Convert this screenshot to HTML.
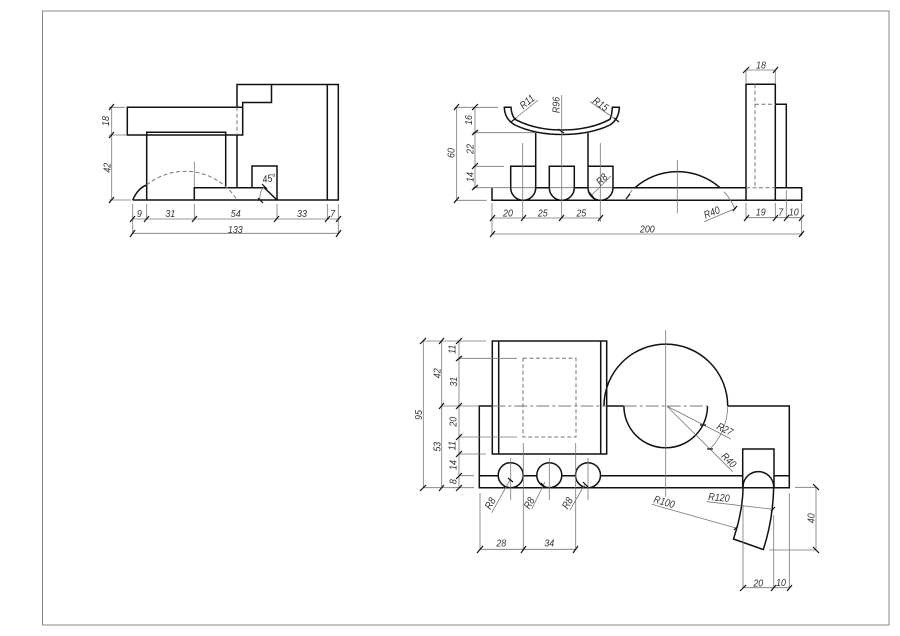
<!DOCTYPE html>
<html>
<head>
<meta charset="utf-8">
<style>
html,body{margin:0;padding:0;background:#fff;width:900px;height:636px;overflow:hidden}
svg{display:block}
.o{fill:none;stroke:#111;stroke-width:1.5}
.d{fill:none;stroke:#777;stroke-width:.8}
.f{fill:none;stroke:#888;stroke-width:1}
.c{fill:none;stroke:#777;stroke-width:.8}
.h{fill:none;stroke:#777;stroke-width:1;stroke-dasharray:4 2.5}
.a{fill:none;stroke:#777;stroke-width:.9;stroke-dasharray:13 3 3 3}
.t{fill:none;stroke:#111;stroke-width:1.2}
text{font-family:"Liberation Sans",sans-serif;font-style:italic;font-size:10.5px;fill:#333;text-anchor:middle}
</style>
</head>
<body>
<svg width="900" height="636" viewBox="0 0 900 636" xmlns="http://www.w3.org/2000/svg">
<rect class="f" x="42.5" y="11" width="846.5" height="614"/>

<!-- VIEW 1 -->
<path class="o" d="M237 107.3V84.5H338.3V200H132.7M271.5 84.5V102.5H242.7V135H127.3V107.3H242.7M146.7 135V132.3H225.7V187.7M146.7 132.3V200M237 135V187.7M194.3 200V187.7H264.3L277 200M252 187.7V166H277V200M327.3 84.5V200M132.7 200Q138 188 146.7 185"/>
<path class="h" d="M237 107.3V135M146.7 185A61 61 0 0 1 237 200"/>
<path class="c" d="M194.3 161.7V187"/>
<path class="d" d="M132.7 204V233M146.7 204V219M194.3 204V219M277 204V219M327.3 204V219M338.3 204V233M132.7 219H338.3M132.7 233.3H338.3M111.7 107.3V200M109 107.3H125M109 135H127M109 200H131M264.3 186A18 18 0 0 0 260 200"/>
<path class="t" d="M130 222L135 216M144 222L149 216M192 222L197 216M274 222L279 216M325 222L330 216M336 222L341 216M130 237L135 230M336 237L341 230M109 110L114 104M109 138L114 132M109 203L114 197M262 184L267 189M258 198L263 203"/>
<text transform="translate(139.3 213.3) scale(.85 1)" dy=".35em">9</text>
<text transform="translate(170.3 213.3) scale(.85 1)" dy=".35em">31</text>
<text transform="translate(235.7 213.3) scale(.85 1)" dy=".35em">54</text>
<text transform="translate(302 213.3) scale(.85 1)" dy=".35em">33</text>
<text transform="translate(332.7 213.3) scale(.85 1)" dy=".35em">7</text>
<text transform="translate(235.3 229.3) scale(.85 1)" dy=".35em">133</text>
<text transform="translate(105.5 121) rotate(-90) scale(.85 1)" dy=".35em">18</text>
<text transform="translate(106.7 167.7) rotate(-90) scale(.85 1)" dy=".35em">42</text>
<text transform="translate(269 178.3) rotate(-10) scale(.85 1)" dy=".35em">45°</text>

<!-- VIEW 2 -->
<path class="o" d="M492 187.7V200.3H801.7V187.7H786.3M613 187.7H746M775.3 187.7H786.3M535.7 187.7H549.3M574.3 187.7H588"/>
<path class="d" d="M492 187.7H510.7M510.7 187.7H535.7M549.3 187.7H574.3M588 187.7H613"/>
<path class="o" d="M510.7 166.3H535.7V187.8A12.5 12.5 0 0 1 510.7 187.8ZM549.3 166.3H574.3V187.8A12.5 12.5 0 0 1 549.3 187.8ZM588 166.3H613V187.8A12.5 12.5 0 0 1 588 187.8ZM535.7 133V166.3M588 133V166.3"/>
<path class="o" d="M504.3 107.3Q504.5 119 515 125Q535 134.5 561.7 134.5Q590 134.5 610 125Q619 119 619.3 107.3H612.3Q612 115 610 119.3Q590 130 561.7 130Q535 130 515 119.3Q511.5 115 511 107.3Z"/>
<path class="o" d="M635 187.7A64.4 64.4 0 0 1 720 187.7M746 200.3V84.3H775.3V200.3M775.3 104.3H786.3V187.7"/>
<path class="h" d="M755 84.3V187.7M755 104.3H775.3M746 187.7H775.3"/>
<path class="c" d="M522.7 143V218M561.7 95V218M600.3 143V222M677.3 160V213.3M786.3 190V218"/>
<path class="d" d="M492 203V234M746 203V218M775.3 203V218M801.7 203V236M492 218H600.3M746 217.7H801.7M492 234H801.7M475 107.3V187.7M456.7 107.3V200.3M455 107.3H498M473 132.7H535M473 166.3H504M473 187.7H492M455 200.3H486.7M746 70V84M775.3 70V84M746 70H775.3M513.3 120L538.3 100M616.7 120L590 101.7M591.7 195L611 176M704 221.7L736 208.3M724 191.7Q731 199 735 209.3M632 190L626 199"/>
<path class="t" d="M490 221L495 215M521 221L526 215M559 221L564 215M598 221L603 215M744 221L749 215M773 221L778 215M784 221L789 215M799 221L804 215M490 237L495 231M799 237L804 231M472 110L478 104M472 135L478 130M472 169L478 163M472 190L478 185M454 110L459 104M454 203L459 197M743 73L749 67M773 73L778 67M511 122L516 118M558 129L564 133M614 118L619 122M589 192L594 198M733 211L737 206M626 199L630 194"/>
<text transform="translate(527 101.7) rotate(-40) scale(.85 1)" dy=".35em">R11</text>
<text transform="translate(555.7 105) rotate(-90) scale(.85 1)" dy=".35em">R96</text>
<text transform="translate(600.7 104) rotate(35) scale(.85 1)" dy=".35em">R15</text>
<text transform="translate(601.7 179.3) rotate(-45) scale(.85 1)" dy=".35em">R8</text>
<text transform="translate(468.5 120) rotate(-90) scale(.85 1)" dy=".35em">16</text>
<text transform="translate(470 149) rotate(-90) scale(.85 1)" dy=".35em">22</text>
<text transform="translate(470 177) rotate(-90) scale(.85 1)" dy=".35em">14</text>
<text transform="translate(451 153) rotate(-90) scale(.85 1)" dy=".35em">60</text>
<text transform="translate(508 212.7) scale(.85 1)" dy=".35em">20</text>
<text transform="translate(542.7 212.7) scale(.85 1)" dy=".35em">25</text>
<text transform="translate(581.3 212.7) scale(.85 1)" dy=".35em">25</text>
<text transform="translate(711.7 212.3) rotate(-22) scale(.85 1)" dy=".35em">R40</text>
<text transform="translate(647.3 229) scale(.85 1)" dy=".35em">200</text>
<text transform="translate(761 65) scale(.85 1)" dy=".35em">18</text>
<text transform="translate(760.7 212) scale(.85 1)" dy=".35em">19</text>
<text transform="translate(780.7 211.7) scale(.85 1)" dy=".35em">7</text>
<text transform="translate(793.7 212) scale(.85 1)" dy=".35em">10</text>

<!-- VIEW 3 -->
<path class="o" d="M492.3 341H606.7V454H492.3ZM498.7 341V454M600.7 341V454"/>
<path class="o" d="M492.3 406H479.3V487.7H789.3V406H727.7M606.7 406H623.7M479.3 475.7H498M523.2 475.7H536.8M561.8 475.7H575.5M600.5 475.7H742.7M774 475.7H789.3"/>
<path class="o" d="M604 406A61.85 61.85 0 0 1 727.7 406M623.9 406A41.8 41.8 0 0 0 707.5 406"/>
<circle class="o" cx="510.7" cy="475.2" r="12.5"/>
<circle class="o" cx="549.3" cy="475.2" r="12.5"/>
<circle class="o" cx="588" cy="475.2" r="12.5"/>
<path class="o" d="M742.7 487V449H774V487"/>
<path class="o" d="M743 487A15.3 15.3 0 0 1 773.7 487Q773 520 763.3 549.5L733.5 539Q743 510 743 487Z"/>
<path class="h" d="M523 358.3H576V437H523Z"/>
<path class="a" d="M492.3 406H606.7M623.7 406H707.5"/>
<path class="c" d="M665.7 330V497M510.7 458V500M549.3 458V500M588 458V500"/>
<path class="d" d="M423.3 341V487.7M441.7 341V487.7M459 341V487.7M423.3 341H486M459 358.3H517M441.7 406H479M459 437H517M459 454H486M459 475.7H474M423.3 487.7H474M523.3 443V550M575.7 443V550M480 493V550M480 549.3H575.7M510 480L491.7 512.7M545 482L531.7 509M585 484L570 510M666.7 406L731 439M666.7 406L732.7 471.7M727.7 406A62 62 0 0 1 710 449M651.7 504.3L736.7 528.3M706.7 501.7L773.3 509.3M795 487.3H816M769 550H816M816 487.3V550M743 505V587.7M773.7 515V587.7M789.3 493V587.7M743 587.7H789.3"/>
<path class="t" d="M420 344L426 338M420 491L426 485M439 344L444 338M439 409L444 403M439 491L444 485M456 344L462 338M456 361L462 356M456 409L462 403M456 440L462 434M456 457L462 451M456 479L462 473M456 491L462 485M477 553L483 546M521 553L526 546M573 553L578 546M700 425H706M707 449H713M508 478L513 482M541 483L546 488M583 482L588 487M734 530L738 526M771 511L775 507M813 484L819 490M813 547L819 553M740 591L746 585M771 591L776 585M787 591L792 585"/>
<text transform="translate(418.3 415) rotate(-90) scale(.85 1)" dy=".35em">95</text>
<text transform="translate(436.7 373.3) rotate(-90) scale(.85 1)" dy=".35em">42</text>
<text transform="translate(436.7 446.7) rotate(-90) scale(.85 1)" dy=".35em">53</text>
<text transform="translate(452 349.3) rotate(-90) scale(.85 1)" dy=".35em">11</text>
<text transform="translate(453.3 381.7) rotate(-90) scale(.85 1)" dy=".35em">31</text>
<text transform="translate(452.7 421.7) rotate(-90) scale(.85 1)" dy=".35em">20</text>
<text transform="translate(452 445.7) rotate(-90) scale(.85 1)" dy=".35em">11</text>
<text transform="translate(452.7 465) rotate(-90) scale(.85 1)" dy=".35em">14</text>
<text transform="translate(452.7 481.7) rotate(-90) scale(.85 1)" dy=".35em">8</text>
<text transform="translate(490 503.3) rotate(-60) scale(.85 1)" dy=".35em">R8</text>
<text transform="translate(529 503) rotate(-60) scale(.85 1)" dy=".35em">R8</text>
<text transform="translate(567.3 503) rotate(-60) scale(.85 1)" dy=".35em">R8</text>
<text transform="translate(501.3 543) scale(.85 1)" dy=".35em">28</text>
<text transform="translate(549.3 542.7) scale(.85 1)" dy=".35em">34</text>
<text transform="translate(725 429) rotate(27) scale(.85 1)" dy=".35em">R27</text>
<text transform="translate(729 460) rotate(45) scale(.85 1)" dy=".35em">R40</text>
<text transform="translate(664.3 501.7) rotate(16) scale(.85 1)" dy=".35em">R100</text>
<text transform="translate(719 497.3) rotate(5) scale(.85 1)" dy=".35em">R120</text>
<text transform="translate(811 518.3) rotate(-90) scale(.85 1)" dy=".35em">40</text>
<text transform="translate(758.3 582.7) scale(.85 1)" dy=".35em">20</text>
<text transform="translate(781 582.3) scale(.85 1)" dy=".35em">10</text>
</svg>
</body>
</html>
